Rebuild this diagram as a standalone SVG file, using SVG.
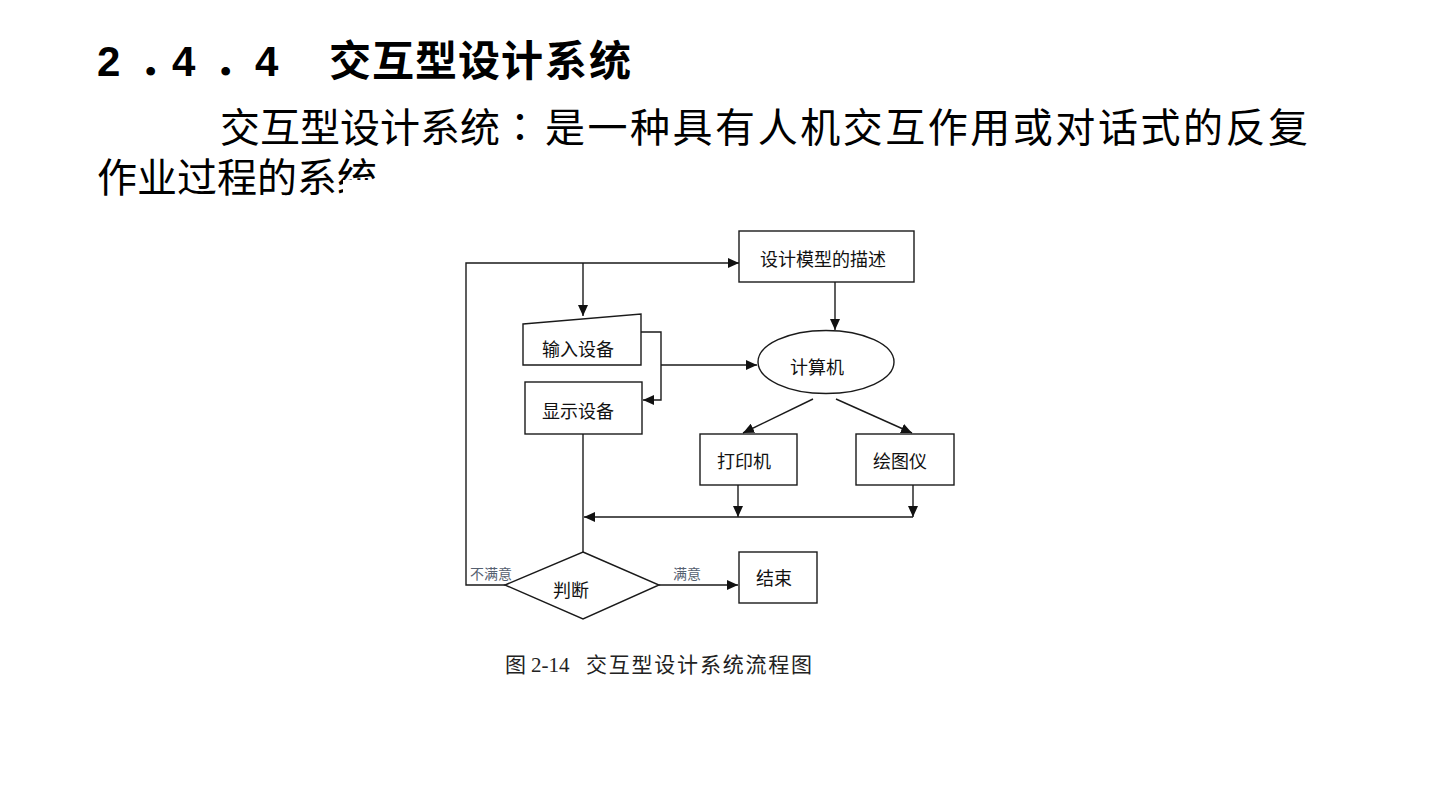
<svg xmlns="http://www.w3.org/2000/svg" width="1440" height="810" viewBox="0 0 1440 810">
<style>
.h1{font-family:"Liberation Sans","Noto Sans CJK SC",sans-serif;font-weight:bold;font-size:42px;fill:#000}
.body{font-family:"Noto Sans CJK SC",sans-serif;font-size:40px;fill:#000}
.lbl{font-family:"Noto Sans CJK SC",sans-serif;font-size:18px;fill:#111;text-anchor:middle;dominant-baseline:central}
.small{font-family:"Noto Sans CJK SC",sans-serif;font-size:14px;fill:#556070;text-anchor:middle;dominant-baseline:central}
.cap{font-family:"Liberation Serif","Noto Sans CJK SC",serif;font-size:21px;fill:#222}
.shape{fill:#fff;stroke:#1a1a1a;stroke-width:1.4}
.wire{fill:none;stroke:#1a1a1a;stroke-width:1.4}
.arr{marker-end:url(#ah)}
</style>
<defs>
<marker id="ah" markerUnits="userSpaceOnUse" markerWidth="12" markerHeight="10" refX="11" refY="5" orient="auto">
<path d="M0,0 L11,5 L0,10 Z" fill="#111"/>
</marker>
</defs>
<rect width="1440" height="810" fill="#fff"/>
<text class="h1" y="76" x="97 139 172 214 255 300 329 372 415 458 501 545 589">2．4．4 交互型设计系统</text>
<text class="body" y="142"><tspan x="220">交互型设计系统</tspan><tspan x="500" font-family="Noto Sans CJK TC">：</tspan><tspan x="545" textLength="763" lengthAdjust="spacing">是一种具有人机交互作用或对话式的反复</tspan></text>
<text class="body" x="97" y="192">作业过程的系统</text>
<rect x="343" y="180" width="640" height="505" fill="#fff"/>
<g id="connectors">
<polyline class="wire arr" points="505,585 466,585 466,263 739,263"/>
<line class="wire arr" x1="583" y1="263" x2="583" y2="316"/>
<line class="wire arr" x1="835" y1="282" x2="835" y2="330"/>
<polyline class="wire arr" points="641,332 661,332 661,400 643,400"/>
<line class="wire arr" x1="661" y1="365" x2="757" y2="365"/>
<line class="wire arr" x1="813" y1="399" x2="743" y2="433"/>
<line class="wire arr" x1="836" y1="399" x2="912" y2="433"/>
<line class="wire arr" x1="738" y1="485" x2="738" y2="517"/>
<line class="wire arr" x1="913" y1="485" x2="913" y2="517"/>
<line class="wire arr" x1="913" y1="517" x2="584" y2="517"/>
<line class="wire" x1="583" y1="434" x2="583" y2="552"/>
<line class="wire arr" x1="659" y1="585" x2="738" y2="585"/>
<text class="small" x="491" y="573">不满意</text>
<text class="small" x="687" y="573">满意</text>
</g>
<g id="design">
<rect class="shape" x="739" y="231" width="175" height="51"/>
<text class="lbl" x="823" y="258">设计模型的描述</text>
</g>
<g id="input">
<polygon class="shape" points="523,324 641,314 641,365 523,365"/>
<text class="lbl" x="578" y="348">输入设备</text>
</g>
<g id="display">
<rect class="shape" x="525" y="382" width="117" height="52"/>
<text class="lbl" x="578" y="410">显示设备</text>
</g>
<g id="computer">
<ellipse class="shape" cx="826" cy="362" rx="68" ry="31.5"/>
<text class="lbl" x="817" y="366">计算机</text>
</g>
<g id="printer">
<rect class="shape" x="700" y="434" width="97" height="51"/>
<text class="lbl" x="744" y="460">打印机</text>
</g>
<g id="plotter">
<rect class="shape" x="856" y="434" width="98" height="51"/>
<text class="lbl" x="900" y="460">绘图仪</text>
</g>
<g id="judge">
<polygon class="shape" points="583,552 659,585 583,619 505,585"/>
<text class="lbl" x="571" y="589">判断</text>
</g>
<g id="end">
<rect class="shape" x="739" y="552" width="78" height="51"/>
<text class="lbl" x="774" y="577">结束</text>
</g>
<text class="cap" y="672"><tspan x="505" font-family="Noto Sans CJK SC">图</tspan><tspan x="531">2-14</tspan><tspan x="586" font-family="Noto Sans CJK SC" textLength="226" lengthAdjust="spacing">交互型设计系统流程图</tspan></text>
</svg>
